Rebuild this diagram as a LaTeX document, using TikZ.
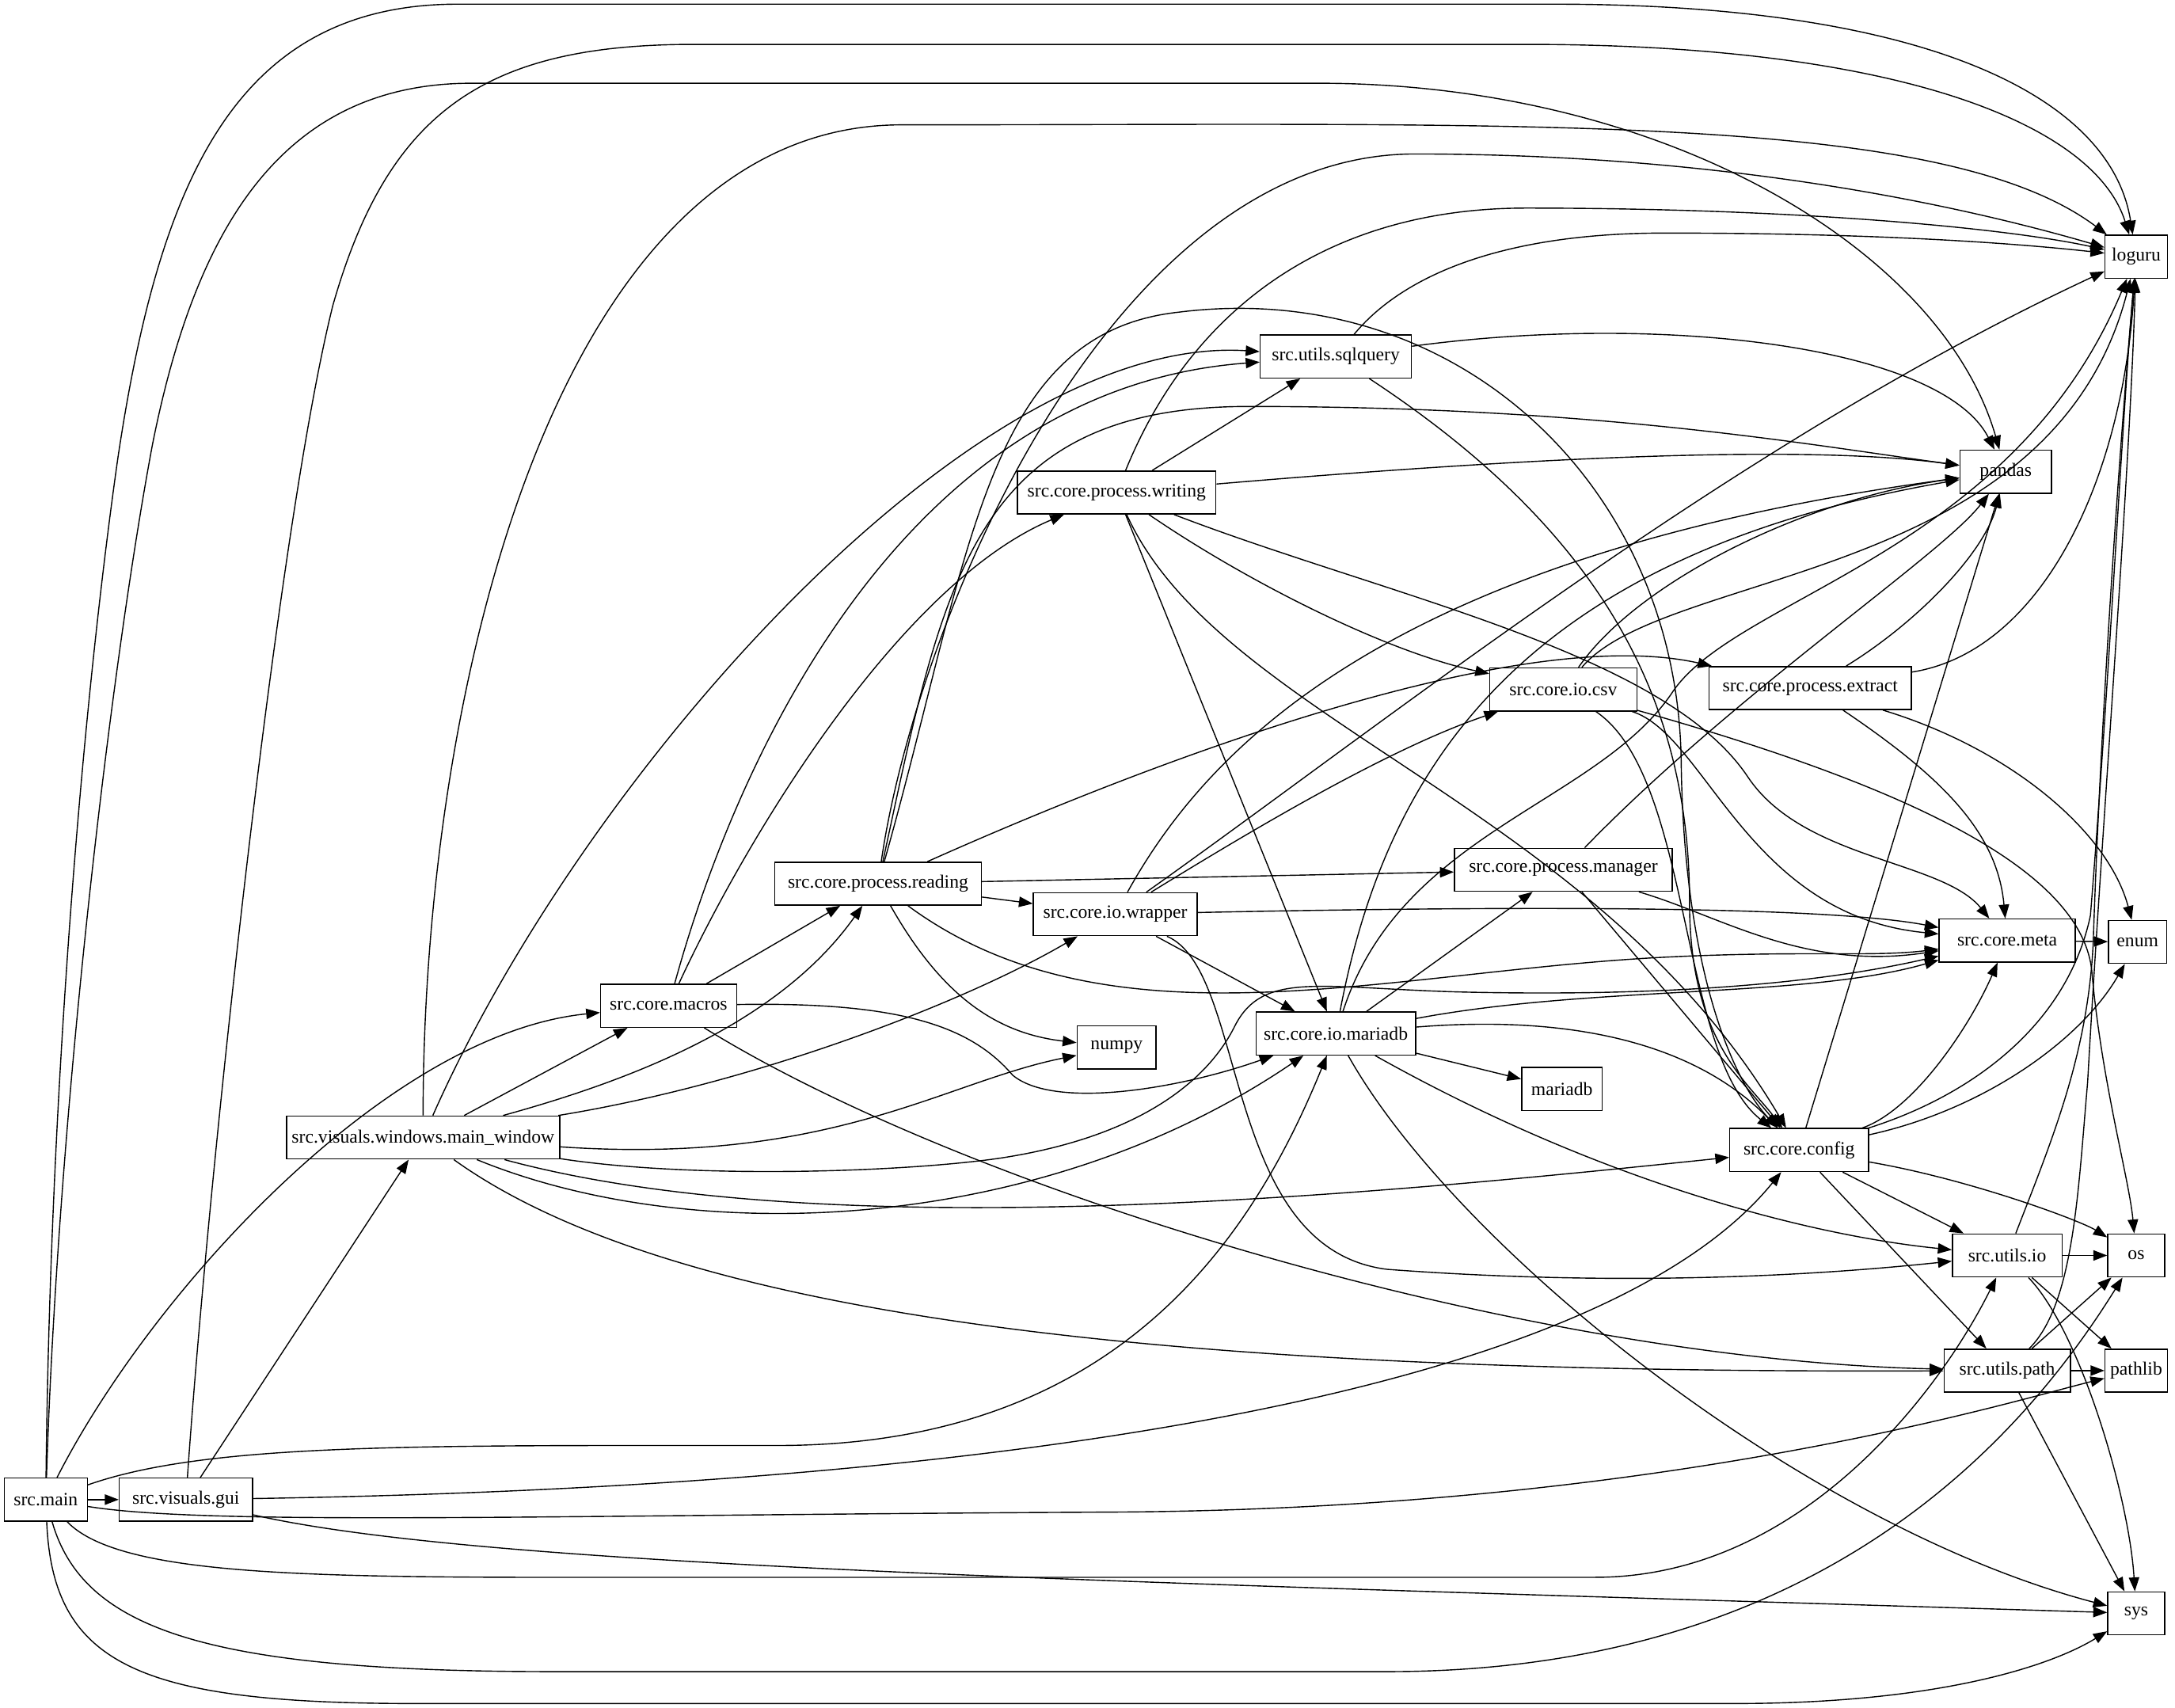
\documentclass[tikz,border=0pt]{standalone}
\usepackage{fontspec}
\setmainfont{Liberation Serif}
\usetikzlibrary{arrows.meta}

\begin{document}
\begin{tikzpicture}[x=1pt,y=-1pt,
  mod/.style={draw,rectangle,line width=0.85pt,minimum height=31pt,inner xsep=2pt,inner ysep=0pt,
    font=\fontsize{13.5}{15}\selectfont},
  dep/.style={-{Triangle[length=10pt,width=7.5pt]},line width=0.8pt}]
  \useasboundingbox (0,0) rectangle (1568,1231);
  % modules, one column per rank
  \node[mod,minimum width=60pt]  (main)      at (33,1081)  {src.main};
  \node[mod,minimum width=96pt]  (gui)       at (134,1081) {src.visuals.gui};
  \node[mod,minimum width=197pt] (mainwin)   at (305,820)  {src.visuals.windows.main\_window};
  \node[mod,minimum width=98pt]  (macros)    at (482,725)  {src.core.macros};
  \node[mod,minimum width=149pt] (reading)   at (633,637)  {src.core.process.reading};
  \node[mod,minimum width=143pt] (writing)   at (805,355)  {src.core.process.writing};
  \node[mod,minimum width=109pt] (sqlquery)  at (963,257)  {src.utils.sqlquery};
  \node[mod,minimum width=118pt] (wrapper)   at (804,659)  {src.core.io.wrapper};
  \node[mod,minimum width=57pt]  (numpy)     at (805,755)  {numpy};
  \node[mod,minimum width=115pt] (iomariadb) at (963,745)  {src.core.io.mariadb};
  \node[mod,minimum width=58pt]  (mariadb)   at (1126,785) {mariadb};
  \node[mod,minimum width=106pt] (csv)       at (1127,497) {src.core.io.csv};
  \node[mod,minimum width=157pt] (manager)   at (1127,627) {src.core.process.manager};
  \node[mod,minimum width=146pt] (extract)   at (1305,496) {src.core.process.extract};
  \node[mod,minimum width=100pt] (config)    at (1297,829) {src.core.config};
  \node[mod,minimum width=98pt]  (meta)      at (1447,678) {src.core.meta};
  \node[mod,minimum width=66pt]  (pandas)    at (1446,340) {pandas};
  \node[mod,minimum width=45pt]  (loguru)    at (1540,185) {loguru};
  \node[mod,minimum width=42pt]  (enum)      at (1541,679) {enum};
  \node[mod,minimum width=79pt]  (utilsio)   at (1447,905) {src.utils.io};
  \node[mod,minimum width=41pt]  (os)        at (1540,905) {os};
  \node[mod,minimum width=91pt]  (utilspath) at (1447,988) {src.utils.path};
  \node[mod,minimum width=45pt]  (pathlib)   at (1540,988) {pathlib};
  \node[mod,minimum width=41pt]  (sys)       at (1540,1163) {sys};

  % src.main
  \draw[dep] (main) -- (gui);
  \draw[dep] (main) .. controls (36,800) and (58,520) .. (85,330) .. controls (115,130) and (170,3) .. (330,3) -- (1120,3) .. controls (1390,3) and (1522,70) .. (loguru);
  \draw[dep] (main) .. controls (42,800) and (80,480) .. (110,320) .. controls (140,170) and (200,60) .. (340,60) -- (950,60) .. controls (1200,60) and (1400,180) .. (pandas);
  \draw[dep] (main) .. controls (110,930) and (280,745) .. (macros);
  \draw[dep] (main) .. controls (150,1040) and (300,1042) .. (560,1042) .. controls (800,1042) and (900,900) .. (iomariadb);
  \draw[dep] (main) .. controls (150,1100) and (400,1092) .. (800,1090) .. controls (1200,1088) and (1450,1010) .. (pathlib);
  \draw[dep] (main) .. controls (90,1140) and (250,1137) .. (500,1137) -- (1150,1137) .. controls (1300,1137) and (1400,1000) .. (utilsio);
  \draw[dep] (main) .. controls (60,1175) and (150,1205) .. (400,1205) -- (1000,1205) .. controls (1300,1205) and (1450,1050) .. (os);
  \draw[dep] (main) .. controls (38,1200) and (100,1228) .. (300,1228) -- (1250,1228) .. controls (1400,1228) and (1480,1200) .. (sys);

  % src.visuals.gui
  \draw[dep] (gui) -- (mainwin);
  \draw[dep] (gui) .. controls (150,850) and (200,380) .. (240,220) .. controls (280,80) and (350,32) .. (500,32) -- (1100,32) .. controls (1370,32) and (1510,90) .. (loguru);
  \draw[dep] (gui) .. controls (700,1072) and (1150,1010) .. (config);
  \draw[dep] (gui) .. controls (350,1130) and (800,1140) .. (sys);

  % src.visuals.windows.main_window
  \draw[dep] (mainwin) .. controls (305,500) and (400,90) .. (650,90) .. controls (1100,90) and (1400,80) .. (loguru);
  \draw[dep] (mainwin) .. controls (420,560) and (700,240) .. (sqlquery);
  \draw[dep] (mainwin) -- (macros);
  \draw[dep] (mainwin) .. controls (450,780) and (560,740) .. (reading);
  \draw[dep] (mainwin) .. controls (550,780) and (700,720) .. (wrapper);
  \draw[dep] (mainwin) .. controls (600,840) and (680,780) .. (numpy);
  \draw[dep] (mainwin) .. controls (500,850) and (650,845) .. (720,835) .. controls (820,820) and (870,780) .. (890,740) .. controls (910,700) and (950,712) .. (1050,715) .. controls (1250,720) and (1350,700) .. (meta);
  \draw[dep] (mainwin) .. controls (500,900) and (750,890) .. (iomariadb);
  \draw[dep] (mainwin) .. controls (600,900) and (1000,860) .. (config);
  \draw[dep] (mainwin) .. controls (500,960) and (900,990) .. (utilspath);

  % src.core.macros
  \draw[dep] (macros) .. controls (530,550) and (650,280) .. (sqlquery);
  \draw[dep] (macros) .. controls (540,600) and (650,420) .. (writing);
  \draw[dep] (macros) -- (reading);
  \draw[dep] (macros) .. controls (650,722) and (700,740) .. (730,775) .. controls (760,800) and (850,785) .. (iomariadb);
  \draw[dep] (macros) .. controls (700,860) and (1100,980) .. (utilspath);

  % src.core.process.reading
  \draw[dep] (reading) .. controls (660,450) and (800,111) .. (1020,111) .. controls (1250,111) and (1420,150) .. (loguru);
  \draw[dep] (reading) .. controls (680,420) and (700,293) .. (900,293) .. controls (1150,293) and (1300,320) .. (pandas);
  \draw[dep] (reading) .. controls (850,540) and (1100,450) .. (extract);
  \draw[dep] (reading) -- (manager);
  \draw[dep] (reading) -- (wrapper);
  \draw[dep] (reading) .. controls (680,720) and (720,745) .. (numpy);
  \draw[dep] (reading) .. controls (700,400) and (710,240) .. (850,225) .. controls (1050,200) and (1210,350) .. (1212,550) .. controls (1214,700) and (1250,780) .. (config);
  \draw[dep] (reading) .. controls (800,760) and (1000,700) .. (1200,690) .. controls (1300,685) and (1350,690) .. (meta);

  % src.core.process.writing
  \draw[dep] (writing) .. controls (860,220) and (960,150) .. (1100,150) .. controls (1300,150) and (1450,165) .. (loguru);
  \draw[dep] (writing) -- (sqlquery);
  \draw[dep] (writing) .. controls (1100,330) and (1300,320) .. (pandas);
  \draw[dep] (writing) .. controls (900,420) and (1000,470) .. (csv);
  \draw[dep] (writing) -- (iomariadb);
  \draw[dep] (writing) .. controls (880,520) and (1150,580) .. (config);
  \draw[dep] (writing) .. controls (1000,430) and (1200,470) .. (1260,560) .. controls (1300,620) and (1400,620) .. (meta);

  % src.utils.sqlquery
  \draw[dep] (sqlquery) .. controls (1010,200) and (1080,168) .. (1200,168) .. controls (1350,168) and (1450,175) .. (loguru);
  \draw[dep] (sqlquery) .. controls (1200,225) and (1400,250) .. (pandas);
  \draw[dep] (sqlquery) .. controls (1150,380) and (1218,500) .. (1218,650) .. controls (1218,750) and (1260,780) .. (config);

  % src.core.io.wrapper
  \draw[dep] (wrapper) .. controls (1000,520) and (1250,320) .. (loguru);
  \draw[dep] (wrapper) .. controls (870,540) and (1000,400) .. (pandas);
  \draw[dep] (wrapper) .. controls (900,600) and (1000,540) .. (csv);
  \draw[dep] (wrapper) .. controls (1000,655) and (1300,650) .. (meta);
  \draw[dep] (wrapper) -- (iomariadb);
  \draw[dep] (wrapper) .. controls (900,700) and (880,900) .. (1000,915) .. controls (1200,930) and (1350,915) .. (utilsio);

  % src.core.io.mariadb
  \draw[dep] (iomariadb) .. controls (1010,600) and (1150,580) .. (1205,500) .. controls (1250,430) and (1450,400) .. (loguru);
  \draw[dep] (iomariadb) .. controls (1000,550) and (1100,400) .. (pandas);
  \draw[dep] (iomariadb) -- (manager);
  \draw[dep] (iomariadb) -- (mariadb);
  \draw[dep] (iomariadb) .. controls (1150,710) and (1300,720) .. (meta);
  \draw[dep] (iomariadb) .. controls (1150,730) and (1230,760) .. (config);
  \draw[dep] (iomariadb) .. controls (1150,850) and (1300,890) .. (utilsio);
  \draw[dep] (iomariadb) .. controls (1050,900) and (1300,1100) .. (sys);

  % src.core.io.csv
  \draw[dep] (csv) .. controls (1200,410) and (1480,420) .. (loguru);
  \draw[dep] (csv) .. controls (1180,420) and (1300,360) .. (pandas);
  \draw[dep] (csv) .. controls (1230,530) and (1260,660) .. (meta);
  \draw[dep] (csv) .. controls (1220,560) and (1210,760) .. (config);
  \draw[dep] (csv) .. controls (1350,560) and (1500,620) .. (1508,700) .. controls (1515,780) and (1535,850) .. (os);

  % src.core.process.manager
  \draw[dep] (manager) .. controls (1250,500) and (1400,400) .. (pandas);
  \draw[dep] (manager) .. controls (1240,660) and (1300,700) .. (meta);
  \draw[dep] (manager) -- (config);

  % src.core.process.extract
  \draw[dep] (extract) .. controls (1380,450) and (1430,400) .. (pandas);
  \draw[dep] (extract) .. controls (1470,470) and (1530,350) .. (loguru);
  \draw[dep] (extract) .. controls (1400,560) and (1440,600) .. (meta);
  \draw[dep] (extract) .. controls (1450,540) and (1520,600) .. (enum);

  % src.core.config
  \draw[dep] (config) .. controls (1420,790) and (1490,740) .. (1507,660) .. controls (1520,500) and (1530,300) .. (loguru);
  \draw[dep] (config) -- (pandas);
  \draw[dep] (config) .. controls (1380,800) and (1420,740) .. (meta);
  \draw[dep] (config) .. controls (1430,800) and (1500,750) .. (enum);
  \draw[dep] (config) -- (utilsio);
  \draw[dep] (config) -- (utilspath);
  \draw[dep] (config) .. controls (1420,850) and (1500,880) .. (os);

  \draw[dep] (meta) -- (enum);

  % src.utils.io / src.utils.path
  \draw[dep] (utilsio) .. controls (1480,820) and (1505,760) .. (1509,680) .. controls (1515,500) and (1530,300) .. (loguru);
  \draw[dep] (utilsio) -- (os);
  \draw[dep] (utilsio) -- (pathlib);
  \draw[dep] (utilsio) .. controls (1500,960) and (1535,1080) .. (sys);
  \draw[dep] (utilspath) .. controls (1495,940) and (1498,860) .. (1505,780) .. controls (1515,600) and (1535,350) .. (loguru);
  \draw[dep] (utilspath) -- (os);
  \draw[dep] (utilspath) -- (pathlib);
  \draw[dep] (utilspath) -- (sys);
\end{tikzpicture}
\end{document}
